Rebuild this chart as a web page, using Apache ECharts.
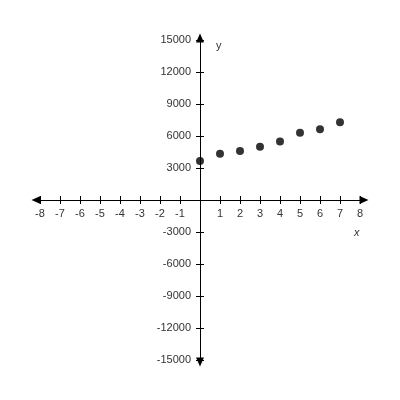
<!DOCTYPE html>
<html><head><meta charset="utf-8">
<script src="https://cdn.jsdelivr.net/npm/echarts@6/dist/echarts.min.js"></script>
<style>html,body{margin:0;padding:0;background:#fff}#c{width:400px;height:400px}</style>
</head><body><div id="c"></div>
<script>
const xValues = [0, 1, 2, 3, 4, 5, 6, 7];
const yValues = [3650, 4350, 4600, 5000, 5500, 6300, 6650, 7300];
const xTicks = [-8, -7, -6, -5, -4, -3, -2, -1, 1, 2, 3, 4, 5, 6, 7, 8];
const yTicks = [-15000, -12000, -9000, -6000, -3000, 3000, 6000, 9000, 12000, 15000];
const xName = 'x';
const yName = 'y';

const chart = echarts.init(document.getElementById('c'), null, {renderer: 'canvas'});
const font = {fontFamily: 'Liberation Sans, Arial, sans-serif', fontSize: 11, color: '#333'};
const G = {left: 36, right: 36, top: 38, bottom: 38};
const gridBox = {left: G.left, right: G.right, top: G.top, bottom: G.bottom, containLabel: false, outerBoundsMode: 'none'};
const lineStyle = {color: '#000', width: 1};
// centre of the plot (where value 0 sits, as the ranges are symmetric)
const xOff = -((400 - G.top - G.bottom) / 2);
const yOff = -((400 - G.left - G.right) / 2);

function xAx(grid, main) {
  return {
    type: 'value', gridIndex: grid, min: -8.2, max: 8.2, position: 'bottom',
    offset: main ? xOff : 0,
    axisLine: {show: true, onZero: !main, lineStyle,
      symbol: main ? ['triangle', 'triangle'] : ['none', 'none'], symbolSize: [8, 9]},
    axisTick: {show: true, inside: !main, length: 4, lineStyle, customValues: xTicks},
    axisLabel: {show: main, margin: 8, ...font, customValues: xTicks, formatter: v => String(v)},
    splitLine: {show: false}
  };
}
function yAx(grid, main) {
  return {
    type: 'value', gridIndex: grid, min: -15200, max: 15200, position: 'left',
    offset: main ? yOff : 0,
    axisLine: {show: true, onZero: !main, lineStyle,
      symbol: main ? ['triangle', 'triangle'] : ['none', 'none'], symbolSize: [8, 9]},
    axisTick: {show: true, inside: !main, length: 4, lineStyle, customValues: yTicks},
    axisLabel: {show: main, margin: 9, ...font, customValues: yTicks, formatter: v => String(v)},
    splitLine: {show: false}
  };
}

chart.setOption({
  animation: false,
  grid: [gridBox, Object.assign({}, gridBox)],
  xAxis: [xAx(0, true), xAx(1, false)],
  yAxis: [yAx(0, true), yAx(1, false)],
  graphic: [
    {type: 'text', left: 216, top: 40, style: {text: yName, ...font, fill: '#333', fontSize: 11}},
    {type: 'text', left: 354, top: 227, style: {text: xName, ...font, fill: '#333', fontSize: 11, fontStyle: 'italic'}}
  ],
  series: [{
    type: 'scatter', xAxisIndex: 0, yAxisIndex: 0,
    symbol: 'circle', symbolSize: 8,
    itemStyle: {color: '#000'},
    data: xValues.map((x, i) => [x, yValues[i]])
  }]
});
</script></body></html>
